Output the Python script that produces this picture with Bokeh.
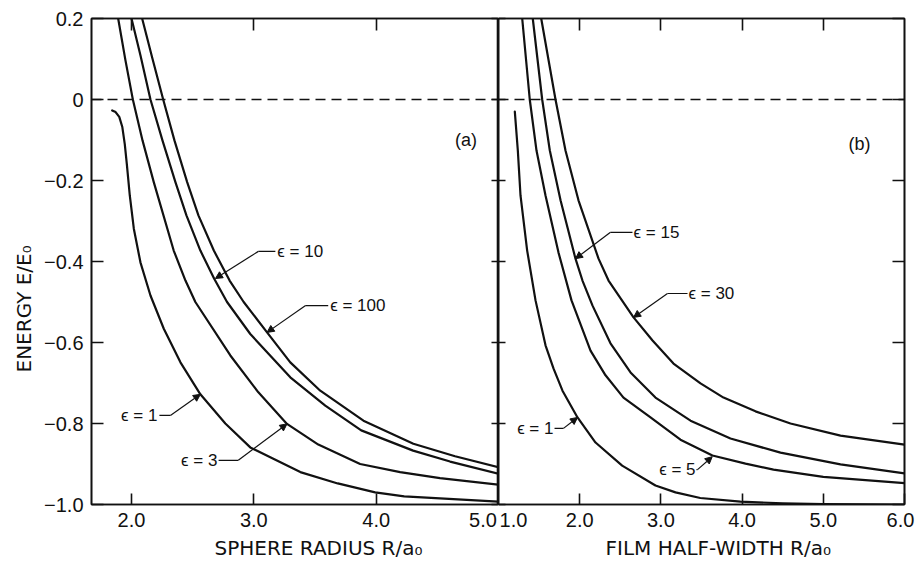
from bokeh.plotting import figure
from bokeh.models import Range1d, LinearAxis, FixedTicker, Span, Label, Arrow, NormalHead, Title
from bokeh.layouts import row
from bokeh.embed import file_html
from bokeh.resources import INLINE

# ---------------- data ----------------
# panel (a): energy vs sphere radius R/a0
a_eps1_x = [1.842, 1.870, 1.900, 1.925, 1.945, 1.962, 1.986, 2.019, 2.073, 2.155, 2.264, 2.400, 2.563, 2.767, 2.971, 3.380, 3.686, 3.992, 4.229, 4.522, 5.000]
a_eps1_y = [-0.027, -0.031, -0.043, -0.068, -0.110, -0.160, -0.237, -0.319, -0.402, -0.484, -0.566, -0.649, -0.728, -0.800, -0.859, -0.920, -0.948, -0.970, -0.980, -0.985, -0.993]
a_eps3_x = [1.891, 1.951, 2.011, 2.090, 2.182, 2.345, 2.441, 2.522, 2.808, 3.037, 3.271, 3.527, 3.869, 4.196, 4.522, 5.000]
a_eps3_y = [0.200, 0.096, 0.000, -0.101, -0.204, -0.373, -0.447, -0.500, -0.632, -0.723, -0.801, -0.852, -0.900, -0.920, -0.935, -0.951]
a_eps10_x = [2.000, 2.073, 2.155, 2.253, 2.359, 2.449, 2.563, 2.675, 2.781, 2.971, 3.298, 3.584, 3.878, 4.302, 4.604, 5.000]
a_eps10_y = [0.200, 0.109, 0.000, -0.101, -0.204, -0.286, -0.373, -0.442, -0.500, -0.579, -0.686, -0.756, -0.817, -0.867, -0.894, -0.924]
a_eps100_x = [2.087, 2.171, 2.259, 2.351, 2.455, 2.547, 2.673, 2.802, 2.917, 3.108, 3.298, 3.543, 3.896, 4.304, 4.645, 5.000]
a_eps100_y = [0.200, 0.101, 0.000, -0.101, -0.204, -0.286, -0.373, -0.447, -0.500, -0.575, -0.649, -0.719, -0.793, -0.850, -0.881, -0.908]

# panel (b): energy vs film half-width R/a0
b_eps1_x = [1.201, 1.238, 1.271, 1.353, 1.456, 1.579, 1.677, 1.788, 1.973, 2.195, 2.523, 2.933, 3.180, 3.485, 3.980, 4.500, 5.000, 6.000]
b_eps1_y = [-0.030, -0.126, -0.237, -0.373, -0.496, -0.607, -0.664, -0.719, -0.785, -0.847, -0.904, -0.953, -0.970, -0.984, -0.993, -0.997, -0.999, -1.000]
b_eps5_x = [1.292, 1.385, 1.468, 1.579, 1.739, 1.899, 2.133, 2.318, 2.539, 2.872, 3.241, 3.635, 4.042, 4.387, 5.000, 6.000]
b_eps5_y = [0.200, 0.000, -0.126, -0.237, -0.378, -0.496, -0.620, -0.681, -0.736, -0.785, -0.840, -0.879, -0.899, -0.914, -0.932, -0.947]
b_eps15_x = [1.422, 1.538, 1.632, 1.764, 1.948, 2.034, 2.158, 2.379, 2.626, 2.933, 3.365, 3.857, 4.473, 5.212, 6.000]
b_eps15_y = [0.200, 0.000, -0.126, -0.249, -0.393, -0.447, -0.509, -0.602, -0.674, -0.736, -0.793, -0.837, -0.872, -0.901, -0.923]
b_eps30_x = [1.526, 1.702, 1.825, 1.985, 2.232, 2.355, 2.663, 2.897, 3.155, 3.488, 3.771, 4.165, 4.596, 5.212, 6.000]
b_eps30_y = [0.200, 0.000, -0.126, -0.249, -0.393, -0.447, -0.538, -0.595, -0.652, -0.701, -0.736, -0.770, -0.800, -0.830, -0.852]

# axes: tick marks and tick labels
y_ticks = [-1.0, -0.8, -0.6, -0.4, -0.2, 0.0, 0.2]
y_tick_labels = ["\u22121.0", "\u22120.8", "\u22120.6", "\u22120.4", "\u22120.2", "0", "0.2"]
a_x_ticks = [2.0, 3.0, 4.0]
a_x_tick_labels = ["2.0", "3.0", "4.0", "5.0"]
a_x_label_pos = [2.0, 3.0, 4.0, 4.873]          # "5.0" sits left of the shared edge
b_x_ticks = [2.0, 3.0, 4.0, 5.0, 6.0]
b_x_tick_labels = ["1.0", "2.0", "3.0", "4.0", "5.0", "6.0"]
b_x_label_pos = [1.185, 2.0, 3.0, 4.0, 5.0, 5.951]  # "1.0" right of the shared edge
a_x_range = (1.673, 5.0)
b_x_range = (1.0, 6.0)
y_range = (-1.0, 0.2)
y_title = "ENERGY E/E\u2080"
a_x_title = "SPHERE RADIUS R/a\u2080"
b_x_title = "FILM HALF-WIDTH R/a\u2080"

# curve annotations (text, anchor, alignment) and leader lines
a_lbl_text = ["\u03f5 = 10", "\u03f5 = 100", "\u03f5 = 1", "\u03f5 = 3"]
a_lbl_x = [3.192, 3.624, 2.212, 2.702]
a_lbl_y = [-0.375, -0.509, -0.780, -0.891]
a_lbl_align = ["left", "left", "right", "right"]
a_lead_x0 = [3.176, 3.608, 2.228, 2.712]
a_lead_x1 = [3.037, 3.420, 2.318, 2.873]
a_tip_x = [2.686, 3.108, 2.563, 3.271]
a_tip_y = [-0.442, -0.575, -0.728, -0.801]

b_lbl_text = ["\u03f5 = 15", "\u03f5 = 30", "\u03f5 = 1", "\u03f5 = 5"]
b_lbl_x = [2.663, 3.340, 1.677, 3.426]
b_lbl_y = [-0.328, -0.479, -0.812, -0.914]
b_lbl_align = ["left", "left", "right", "right"]
b_lead_x0 = [2.650, 3.328, 1.690, 3.438]
b_lead_x1 = [2.379, 3.081, 1.800, 3.451]
b_tip_x = [1.948, 2.663, 1.973, 3.632]
b_tip_y = [-0.393, -0.538, -0.785, -0.882]

panel_tags = ["(a)", "(b)"]
panel_tag_x = [4.735, 5.446]
panel_tag_y = [-0.101, -0.109]

# ---------------- styling ----------------
INK = "#111111"
TICK_FONT = "Liberation Sans"
TITLE_FONT = "DejaVu Sans"
TOP = 18
FRAME_H = 486
TOTAL_H = 568


def tick_axis(ax, ticks, tick_in):
    """axis that draws only the frame line and inward tick marks"""
    ax.ticker = FixedTicker(ticks=ticks)
    ax.minor_tick_line_color = None
    ax.major_tick_in = tick_in
    ax.major_tick_out = 0
    ax.axis_line_color = INK
    ax.axis_line_width = 1.6
    ax.major_tick_line_color = INK
    ax.major_tick_line_width = 1.6
    ax.major_label_text_font_size = "0px"
    ax.major_label_text_color = None
    ax.major_label_standoff = 0


def label_axis(ax, ticks, labels, standoff):
    """axis that draws only the tick labels"""
    ax.ticker = FixedTicker(ticks=ticks)
    ax.minor_tick_line_color = None
    ax.major_tick_line_color = None
    ax.axis_line_color = None
    ax.major_tick_in = 0
    ax.major_tick_out = 0
    ax.major_label_overrides = {t: l for t, l in zip(ticks, labels)}
    ax.major_label_text_font = TICK_FONT
    ax.major_label_text_font_size = "20px"
    ax.major_label_text_color = INK
    ax.major_label_standoff = standoff


def make_fig(width, xr, bl, br):
    p = figure(width=width, height=TOTAL_H, x_range=Range1d(*xr), y_range=Range1d(*y_range),
               output_backend="svg", toolbar_location=None,
               min_border_left=bl, min_border_right=br, min_border_top=TOP,
               min_border_bottom=TOTAL_H - TOP - FRAME_H,
               background_fill_color="white", border_fill_color="white",
               outline_line_color=INK, outline_line_width=1.6)
    p.xgrid.grid_line_color = None
    p.ygrid.grid_line_color = None
    p.add_layout(Span(location=0.0, dimension="width", line_color=INK,
                      line_width=1.6, line_dash="10 6"))
    return p


def add_curves(p, curves):
    for xs, ys in curves:
        p.line(xs, ys, line_color=INK, line_width=2.2, line_join="round", line_cap="round")


def add_annotations(p, texts, lx, ly, al, x0, x1, tx, ty):
    p.segment(x0=x0, y0=ly, x1=x1, y1=ly, line_color=INK, line_width=1.2)
    for i in range(len(texts)):
        p.add_layout(Label(x=lx[i], y=ly[i], text=texts[i], text_align=al[i],
                           text_baseline="middle", text_font=TICK_FONT,
                           text_font_size="17px", text_color=INK))
        p.add_layout(Arrow(x_start=x1[i], y_start=ly[i], x_end=tx[i], y_end=ty[i],
                           line_color=INK, line_width=1.2,
                           end=NormalHead(size=7, fill_color=INK, line_color=INK)))


def title(text, offset, standoff):
    return Title(text=text, align="left", offset=offset, standoff=standoff,
                 text_font=TITLE_FONT, text_font_size="20px",
                 text_font_style="normal", text_color=INK)


# ---------- panel (a) ----------
pa = make_fig(498, a_x_range, 91, 0)
ya = pa.yaxis[0]
tick_axis(ya, y_ticks, 12)
ya.major_label_overrides = {t: l for t, l in zip(y_ticks, y_tick_labels)}
ya.major_label_text_font = TICK_FONT
ya.major_label_text_font_size = "20px"
ya.major_label_text_color = INK
ya.major_label_standoff = 8
tick_axis(pa.xaxis[0], a_x_ticks, 11)
xa_lab = LinearAxis()
label_axis(xa_lab, a_x_label_pos, a_x_tick_labels, 8)
pa.add_layout(xa_lab, "below")
ax_top = LinearAxis()
tick_axis(ax_top, a_x_ticks, 12)
pa.add_layout(ax_top, "above")
ax_right = LinearAxis()
tick_axis(ax_right, y_ticks, 7)
pa.add_layout(ax_right, "right")
add_curves(pa, [(a_eps1_x, a_eps1_y), (a_eps3_x, a_eps3_y),
                (a_eps10_x, a_eps10_y), (a_eps100_x, a_eps100_y)])
add_annotations(pa, a_lbl_text, a_lbl_x, a_lbl_y, a_lbl_align,
                a_lead_x0, a_lead_x1, a_tip_x, a_tip_y)
pa.add_layout(Label(x=panel_tag_x[0], y=panel_tag_y[0], text=panel_tags[0],
                    text_align="center", text_baseline="middle",
                    text_font=TICK_FONT, text_font_size="18px", text_color=INK))
pa.add_layout(title(a_x_title, 123, 9), "below")
pa.add_layout(title(y_title, 132, 12), "left")

# ---------- panel (b) ----------
pb = make_fig(419, b_x_range, 0, 13)
tick_axis(pb.yaxis[0], y_ticks, 7)
tick_axis(pb.xaxis[0], b_x_ticks, 11)
xb_lab = LinearAxis()
label_axis(xb_lab, b_x_label_pos, b_x_tick_labels, 8)
pb.add_layout(xb_lab, "below")
bx_top = LinearAxis()
tick_axis(bx_top, [2.0, 3.0, 4.0, 5.0], 12)
pb.add_layout(bx_top, "above")
by_right = LinearAxis()
tick_axis(by_right, y_ticks, 12)
pb.add_layout(by_right, "right")
add_curves(pb, [(b_eps1_x, b_eps1_y), (b_eps5_x, b_eps5_y),
                (b_eps15_x, b_eps15_y), (b_eps30_x, b_eps30_y)])
add_annotations(pb, b_lbl_text, b_lbl_x, b_lbl_y, b_lbl_align,
                b_lead_x0, b_lead_x1, b_tip_x, b_tip_y)
pb.add_layout(Label(x=panel_tag_x[1], y=panel_tag_y[1], text=panel_tags[1],
                    text_align="center", text_baseline="middle",
                    text_font=TICK_FONT, text_font_size="18px", text_color=INK))
pb.add_layout(title(b_x_title, 107, 9), "below")

layout = row(pa, pb)
open("out.html", "w").write(file_html(layout, INLINE))
